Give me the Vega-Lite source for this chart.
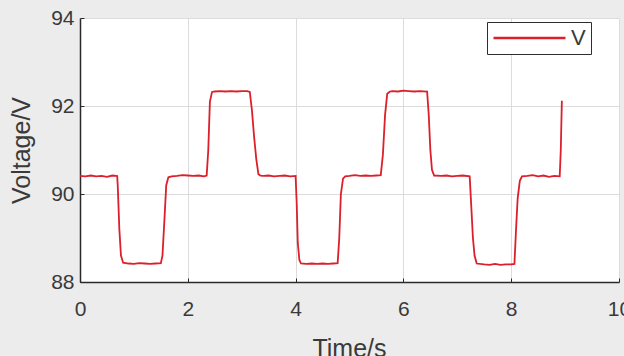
{
  "$schema": "https://vega.github.io/schema/vega-lite/v6.json",
  "width": 539,
  "height": 264,
  "autosize": "none",
  "padding": {"left": 80, "top": 18, "right": 5, "bottom": 74},
  "background": "#ececec",
  "config": {
    "view": {"stroke": null, "fill": "white"},
    "font": "Liberation Sans",
    "axis": {
      "domainColor": "#2a2a2a",
      "domainWidth": 1.5,
      "gridColor": "#dcdcdc",
      "gridWidth": 1,
      "tickColor": "#2a2a2a",
      "tickSize": -4,
      "labelFont": "Liberation Sans",
      "labelFontSize": 21,
      "labelColor": "#3a3a3a",
      "titleFont": "Liberation Sans",
      "titleFontSize": 25,
      "titleFontWeight": "normal",
      "titleColor": "#3a3a3a"
    }
  },
  "data": {
    "values": [
      {"t": 0, "v": 90.41}, {"t": 0.1, "v": 90.40}, {"t": 0.2, "v": 90.42}, {"t": 0.3, "v": 90.40},
      {"t": 0.4, "v": 90.41}, {"t": 0.5, "v": 90.39}, {"t": 0.6, "v": 90.42}, {"t": 0.69, "v": 90.41},
      {"t": 0.70, "v": 90.2}, {"t": 0.73, "v": 89.2}, {"t": 0.76, "v": 88.6}, {"t": 0.80, "v": 88.44},
      {"t": 0.9, "v": 88.42}, {"t": 1.0, "v": 88.41}, {"t": 1.1, "v": 88.43}, {"t": 1.2, "v": 88.42},
      {"t": 1.3, "v": 88.41}, {"t": 1.4, "v": 88.42}, {"t": 1.5, "v": 88.43},
      {"t": 1.53, "v": 88.6}, {"t": 1.57, "v": 89.5}, {"t": 1.60, "v": 90.2}, {"t": 1.64, "v": 90.38},
      {"t": 1.7, "v": 90.40}, {"t": 1.8, "v": 90.41}, {"t": 1.9, "v": 90.43}, {"t": 2.0, "v": 90.42},
      {"t": 2.1, "v": 90.41}, {"t": 2.2, "v": 90.42}, {"t": 2.3, "v": 90.40}, {"t": 2.35, "v": 90.42},
      {"t": 2.38, "v": 91.0}, {"t": 2.41, "v": 92.1}, {"t": 2.45, "v": 92.32}, {"t": 2.5, "v": 92.33},
      {"t": 2.6, "v": 92.34}, {"t": 2.7, "v": 92.33}, {"t": 2.8, "v": 92.34}, {"t": 2.9, "v": 92.33},
      {"t": 3.0, "v": 92.34}, {"t": 3.1, "v": 92.34}, {"t": 3.15, "v": 92.32},
      {"t": 3.19, "v": 91.9}, {"t": 3.23, "v": 91.3}, {"t": 3.27, "v": 90.8}, {"t": 3.31, "v": 90.45},
      {"t": 3.35, "v": 90.42}, {"t": 3.4, "v": 90.41}, {"t": 3.5, "v": 90.42}, {"t": 3.6, "v": 90.40},
      {"t": 3.7, "v": 90.41}, {"t": 3.8, "v": 90.42}, {"t": 3.9, "v": 90.40}, {"t": 4.0, "v": 90.41},
      {"t": 4.02, "v": 89.8}, {"t": 4.04, "v": 88.9}, {"t": 4.07, "v": 88.5}, {"t": 4.1, "v": 88.42},
      {"t": 4.2, "v": 88.41}, {"t": 4.3, "v": 88.42}, {"t": 4.4, "v": 88.41}, {"t": 4.5, "v": 88.42},
      {"t": 4.6, "v": 88.41}, {"t": 4.7, "v": 88.42}, {"t": 4.78, "v": 88.43},
      {"t": 4.81, "v": 89.0}, {"t": 4.84, "v": 90.0}, {"t": 4.88, "v": 90.35}, {"t": 4.92, "v": 90.40},
      {"t": 5.0, "v": 90.41}, {"t": 5.1, "v": 90.43}, {"t": 5.2, "v": 90.41}, {"t": 5.3, "v": 90.42},
      {"t": 5.4, "v": 90.41}, {"t": 5.5, "v": 90.42}, {"t": 5.58, "v": 90.43},
      {"t": 5.62, "v": 90.9}, {"t": 5.66, "v": 91.8}, {"t": 5.70, "v": 92.28}, {"t": 5.75, "v": 92.33},
      {"t": 5.8, "v": 92.34}, {"t": 5.9, "v": 92.33}, {"t": 6.0, "v": 92.35}, {"t": 6.1, "v": 92.34},
      {"t": 6.2, "v": 92.33}, {"t": 6.3, "v": 92.34}, {"t": 6.44, "v": 92.33},
      {"t": 6.47, "v": 91.8}, {"t": 6.50, "v": 91.0}, {"t": 6.53, "v": 90.55}, {"t": 6.57, "v": 90.42},
      {"t": 6.7, "v": 90.41}, {"t": 6.8, "v": 90.42}, {"t": 6.9, "v": 90.40}, {"t": 7.0, "v": 90.41},
      {"t": 7.1, "v": 90.42}, {"t": 7.23, "v": 90.40},
      {"t": 7.26, "v": 89.7}, {"t": 7.29, "v": 89.0}, {"t": 7.32, "v": 88.6}, {"t": 7.36, "v": 88.42},
      {"t": 7.5, "v": 88.40}, {"t": 7.6, "v": 88.39}, {"t": 7.7, "v": 88.41}, {"t": 7.8, "v": 88.39},
      {"t": 7.9, "v": 88.40}, {"t": 8.0, "v": 88.40}, {"t": 8.06, "v": 88.41},
      {"t": 8.09, "v": 89.2}, {"t": 8.12, "v": 89.9}, {"t": 8.16, "v": 90.3}, {"t": 8.2, "v": 90.40},
      {"t": 8.3, "v": 90.41}, {"t": 8.4, "v": 90.43}, {"t": 8.5, "v": 90.40}, {"t": 8.6, "v": 90.42},
      {"t": 8.7, "v": 90.39}, {"t": 8.8, "v": 90.41}, {"t": 8.9, "v": 90.40},
      {"t": 8.92, "v": 91.0}, {"t": 8.94, "v": 92.12}
    ]
  },
  "transform": [{"calculate": "'V'", "as": "series"}],
  "mark": {"type": "line", "strokeWidth": 1.8, "interpolate": "linear"},
  "encoding": {
    "x": {
      "field": "t", "type": "quantitative",
      "scale": {"domain": [0, 10], "nice": false},
      "axis": {"values": [0, 2, 4, 6, 8, 10], "title": "Time/s", "labelPadding": 20,
               "titleX": 269, "titleY": 54, "titleBaseline": "top", "labelFlush": false}
    },
    "y": {
      "field": "v", "type": "quantitative",
      "scale": {"domain": [88, 94], "nice": false, "zero": false},
      "axis": {"values": [88, 90, 92, 94], "title": "Voltage/V", "labelPadding": 10,
               "titleX": -59, "titleY": 132, "titleAngle": -90, "titleBaseline": "middle",
               "titleAlign": "center", "labelFlush": false}
    },
    "color": {
      "field": "series", "type": "nominal",
      "scale": {"range": ["#dc1f2b"]},
      "legend": {
        "title": null, "orient": "none", "legendX": 407, "legendY": 4,
        "symbolType": "stroke", "symbolSize": 5184, "symbolStrokeWidth": 2.5,
        "clipHeight": 22,
        "labelFontSize": 22, "labelColor": "#3a3a3a", "labelOffset": 4,
        "padding": 5, "fillColor": "white", "strokeColor": "#2e2e2e"
      }
    }
  }
}
